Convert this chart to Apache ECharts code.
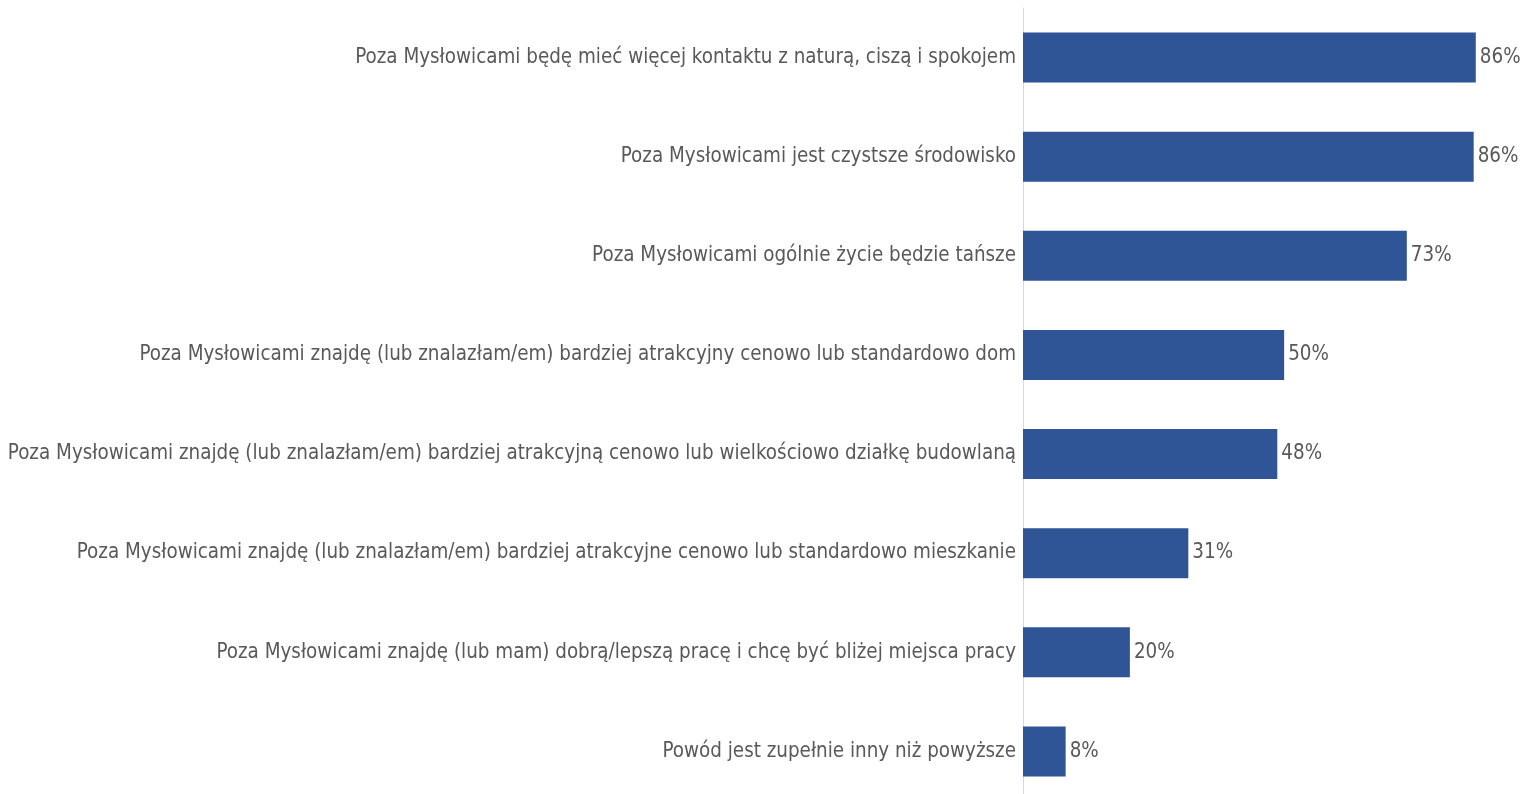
<!DOCTYPE html>
<html>
<head>
<meta charset="utf-8">
<script src="https://cdn.jsdelivr.net/npm/echarts@6/dist/echarts.min.js"></script>
<style>
  html, body { margin: 0; padding: 0; background: #fff; }
  #chart { width: 1523px; height: 794px; }
</style>
</head>
<body>
<div id="chart"></div>
<script>
// powody wyprowadzki - od góry do dołu
var categories = [
    'Poza Mysłowicami będę mieć więcej kontaktu z naturą, ciszą i spokojem',
    'Poza Mysłowicami jest czystsze środowisko',
    'Poza Mysłowicami ogólnie życie będzie tańsze',
    'Poza Mysłowicami znajdę (lub znalazłam/em) bardziej atrakcyjny cenowo lub standardowo dom',
    'Poza Mysłowicami znajdę (lub znalazłam/em) bardziej atrakcyjną cenowo lub wielkościowo działkę budowlaną',
    'Poza Mysłowicami znajdę (lub znalazłam/em) bardziej atrakcyjne cenowo lub standardowo mieszkanie',
    'Poza Mysłowicami znajdę (lub mam) dobrą/lepszą pracę i chcę być bliżej miejsca pracy',
    'Powód jest zupełnie inny niż powyższe'
];
var values = [86.0, 85.6, 72.9, 49.6, 48.3, 31.4, 20.3, 8.1];

var font = '"Liberation Sans Narrow", "DejaVu Sans Condensed", sans-serif';

var myChart = echarts.init(document.getElementById('chart'));

var option = {
    animation: false,
    grid: {
        left: 1023,
        right: 1523 - 1023 - 90 * 5.265,
        top: 8,
        bottom: -7,
        containLabel: false,
        outerBoundsMode: 'none'
    },
    xAxis: {
        type: 'value',
        min: 0,
        max: 90,
        show: false
    },
    yAxis: {
        type: 'category',
        inverse: true,
        data: categories,
        axisLine: { show: true, lineStyle: { color: '#d9d9d9', width: 1 } },
        axisTick: { show: false },
        axisLabel: {
            color: '#595959',
            fontFamily: font,
            fontSize: 20.4,
            margin: 7
        }
    },
    series: [
        {
            type: 'bar',
            data: values,
            barWidth: 50,
            itemStyle: { color: '#2f5597' },
            label: {
                show: true,
                position: 'right',
                distance: 4,
                color: '#595959',
                fontFamily: font,
                fontSize: 20.4,
                formatter: function (p) { return Math.round(p.value) + '%'; }
            }
        }
    ]
};

myChart.setOption(option);
</script>
</body>
</html>
